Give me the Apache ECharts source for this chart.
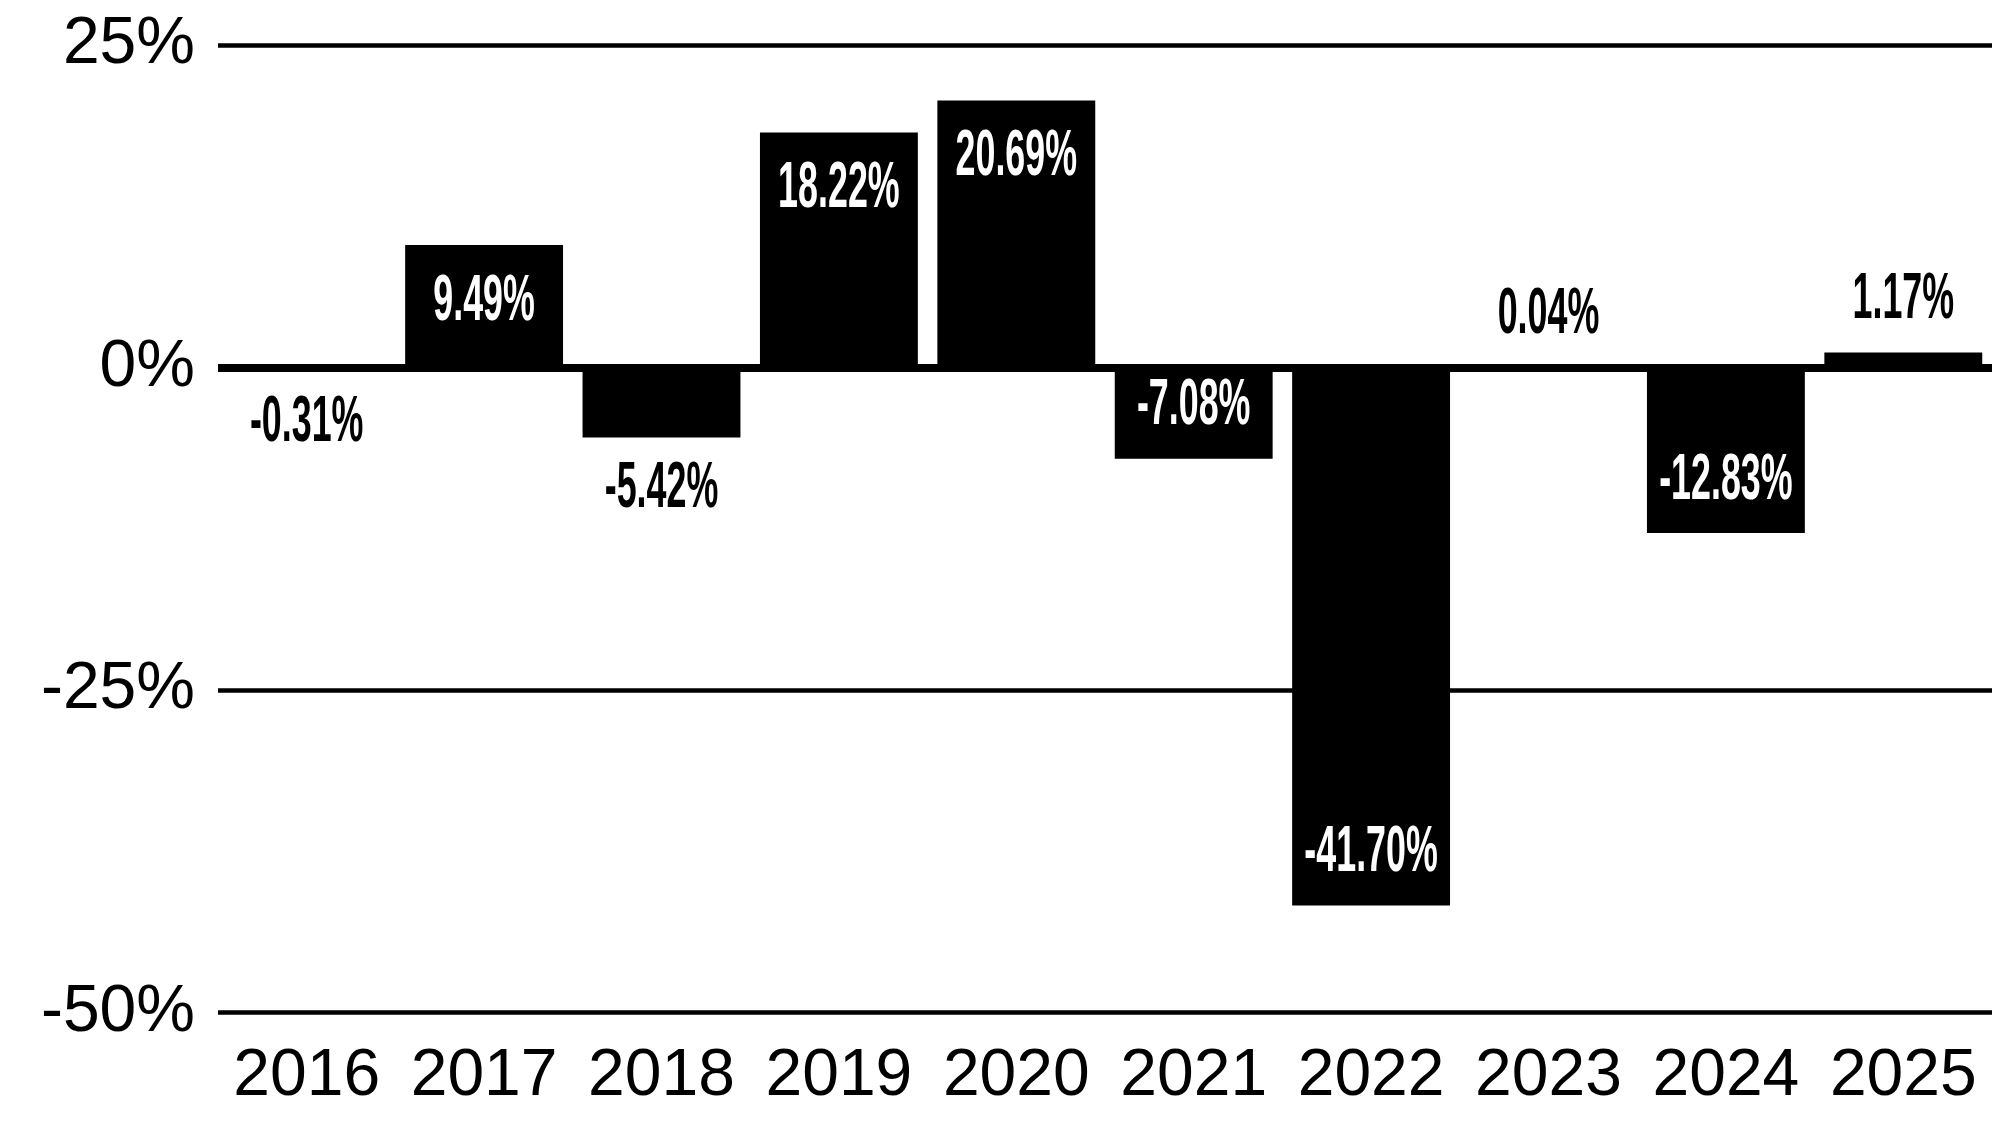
<!DOCTYPE html>
<html>
<head>
<meta charset="utf-8">
<script src="https://cdn.jsdelivr.net/npm/echarts@6/dist/echarts.min.js"></script>
<style>
html,body{margin:0;padding:0;background:#fff;}
#chart{width:1992px;height:1125px;}
</style>
</head>
<body>
<div id="chart"></div>
<script>
const years = ['2016','2017','2018','2019','2020','2021','2022','2023','2024','2025'];
const returns = [-0.31, 9.49, -5.42, 18.22, 20.69, -7.08, -41.70, 0.04, -12.83, 1.17];
const yTicks = [-50, -25, 0, 25];

const chart = echarts.init(document.getElementById('chart'), null, {renderer:'canvas'});

const labelData = returns.map((v, i) => [i, v]);

const option = {
  animation: false,
  backgroundColor: '#ffffff',
  grid: {left: 218, right: 0, top: 45, bottom: 112.5, containLabel: false, outerBoundsMode: 'none'},
  xAxis: {
    type: 'category',
    data: years,
    axisLine: {show: false},
    axisTick: {show: false},
    axisLabel: {
      color: '#000', fontFamily: 'Liberation Sans', fontSize: 66, margin: 31,
      interval: 0, hideOverlap: false
    },
    splitLine: {show: false}
  },
  yAxis: {
    type: 'value',
    min: yTicks[0], max: yTicks[yTicks.length - 1], interval: 25,
    axisLine: {show: false},
    axisTick: {show: false},
    axisLabel: {
      color: '#000', fontFamily: 'Liberation Sans', fontSize: 66, margin: 23,
      formatter: v => v + '%'
    },
    splitLine: {show: true, lineStyle: {color: '#000', width: 4.5}}
  },
  series: [
    {
      type: 'bar',
      data: returns,
      barCategoryGap: '11%',
      itemStyle: {color: '#000'},
      markLine: {
        silent: true,
        symbol: 'none',
        label: {show: false},
        lineStyle: {color: '#000', width: 8, type: 'solid'},
        data: [{yAxis: 0}]
      }
    },
    {
      type: 'custom',
      data: labelData,
      z: 10,
      renderItem: function (params, api) {
        const i = api.value(0);
        const v = api.value(1);
        const pt = api.coord([i, v]);
        const inside = Math.abs(v) >= 7;
        let y;
        if (v >= 0) {
          y = inside ? pt[1] + 57 : pt[1] - 52;
        } else {
          y = inside ? pt[1] - 52 : pt[1] + 52;
        }
        return {
          type: 'text',
          x: pt[0],
          y: y,
          scaleX: 0.56,
          style: {
            text: v.toFixed(2) + '%',
            fill: inside ? '#fff' : '#000',
            font: 'bold 64px "Liberation Sans"',
            align: 'center',
            verticalAlign: 'middle'
          }
        };
      }
    }
  ]
};
chart.setOption(option);
</script>
</body>
</html>
